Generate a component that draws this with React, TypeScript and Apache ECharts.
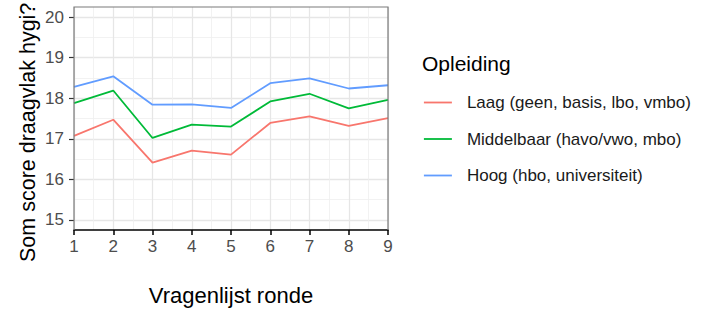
import React, { useEffect, useRef } from "react";
import * as echarts from "echarts";

const rounds = [1, 2, 3, 4, 5, 6, 7, 8, 9];
const laag = [17.07, 17.47, 16.41, 16.71, 16.61, 17.39, 17.55, 17.32, 17.51];
const middelbaar = [17.88, 18.19, 17.02, 17.35, 17.3, 17.92, 18.11, 17.75, 17.96];
const hoog = [18.28, 18.54, 17.84, 17.85, 17.76, 18.37, 18.49, 18.24, 18.32];
const seriesNames = [
  "Laag (geen, basis, lbo, vmbo)",
  "Middelbaar (havo/vwo, mbo)",
  "Hoog (hbo, universiteit)",
];
const seriesColors = ["#F8766D", "#00BA38", "#619CFF"];
const yTicks = { min: 15, max: 20, interval: 1 };
const xTicks = { min: 1, max: 9, interval: 1 };

const FONT = "Liberation Sans, Arial, sans-serif";

export default function App() {
  const ref = useRef<HTMLDivElement>(null);
  useEffect(() => {
    if (!ref.current) return;
    const chart = echarts.init(ref.current, null, { renderer: "svg" });
    const values = [laag, middelbaar, hoog];
    const majorLine = { show: true, lineStyle: { color: "#e6e6e6", width: 1.3 } };
    const minorLine = { show: true, lineStyle: { color: "#efefef", width: 0.8 } };
    chart.setOption({
      animation: false,
      backgroundColor: "#ffffff",
      textStyle: { fontFamily: FONT },
      grid: [
        { left: 74, right: 313, top: 7, bottom: 79 },
        { left: 74, right: 313, top: 17.14, bottom: 89.14 },
      ],
      xAxis: [
        {
          type: "value",
          gridIndex: 0,
          min: xTicks.min,
          max: xTicks.max,
          interval: xTicks.interval,
          axisLine: { show: true, lineStyle: { color: "#000000", width: 1.5 } },
          axisTick: { show: true, length: 5, lineStyle: { color: "#000000", width: 1.5 } },
          axisLabel: { fontSize: 17, color: "#4d4d4d", margin: 8, fontFamily: FONT },
          splitLine: majorLine,
          minorTick: { show: false, splitNumber: 2 },
          minorSplitLine: minorLine,
        },
        {
          type: "value",
          gridIndex: 1,
          min: xTicks.min,
          max: xTicks.max,
          show: false,
        },
      ],
      yAxis: [
        { type: "value", gridIndex: 0, min: 0, max: 1, show: false },
        {
          type: "value",
          gridIndex: 1,
          min: yTicks.min,
          max: yTicks.max,
          interval: yTicks.interval,
          axisLine: { show: false },
          axisTick: { show: true, length: 5, lineStyle: { color: "#333333", width: 1.2 } },
          axisLabel: { fontSize: 17, color: "#4d4d4d", margin: 10, fontFamily: FONT },
          splitLine: majorLine,
          minorTick: { show: false, splitNumber: 2 },
          minorSplitLine: minorLine,
        },
      ],
      legend: {
        orient: "vertical",
        left: 423,
        top: 94,
        padding: 0,
        itemWidth: 28,
        itemHeight: 14,
        itemGap: 19.5,
        itemStyle: { opacity: 0 },
        lineStyle: { width: 1.8 },
        textStyle: { fontSize: 17, color: "#1a1a1a", fontFamily: FONT, padding: [0, 0, 0, 10] },
        data: seriesNames,
      },
      graphic: [
        {
          type: "polyline",
          z: 50,
          shape: { points: [[74, 230], [74, 7], [388, 7], [388, 230]] },
          style: { fill: "none", stroke: "#7a7a7a", lineWidth: 1.2 },
        },
        {
          type: "text",
          x: 231,
          y: 295,
          style: {
            text: "Vragenlijst ronde",
            fontSize: 22,
            fontFamily: FONT,
            fill: "#000000",
            align: "center",
            verticalAlign: "middle",
          },
        },
        {
          type: "text",
          x: 28,
          y: 262,
          rotation: Math.PI / 2,
          style: {
            text: "Som score draagvlak hygi?",
            fontSize: 21.5,
            fontFamily: FONT,
            fill: "#000000",
            align: "left",
            verticalAlign: "middle",
          },
        },
        {
          type: "text",
          x: 422,
          y: 63,
          style: {
            text: "Opleiding",
            fontSize: 21,
            fontFamily: FONT,
            fill: "#000000",
            align: "left",
            verticalAlign: "middle",
          },
        },
      ],
      series: values.map((v, i) => ({
        type: "line",
        name: seriesNames[i],
        xAxisIndex: 1,
        yAxisIndex: 1,
        symbol: "none",
        lineStyle: { color: seriesColors[i], width: 1.8 },
        itemStyle: { color: seriesColors[i] },
        data: rounds.map((r, j) => [r, v[j]]),
      })),
    });
    return () => chart.dispose();
  }, []);
  return (
    <div
      ref={ref}
      style={{ position: "absolute", left: 0, top: 0, width: 701, height: 309 }}
    />
  );
}
